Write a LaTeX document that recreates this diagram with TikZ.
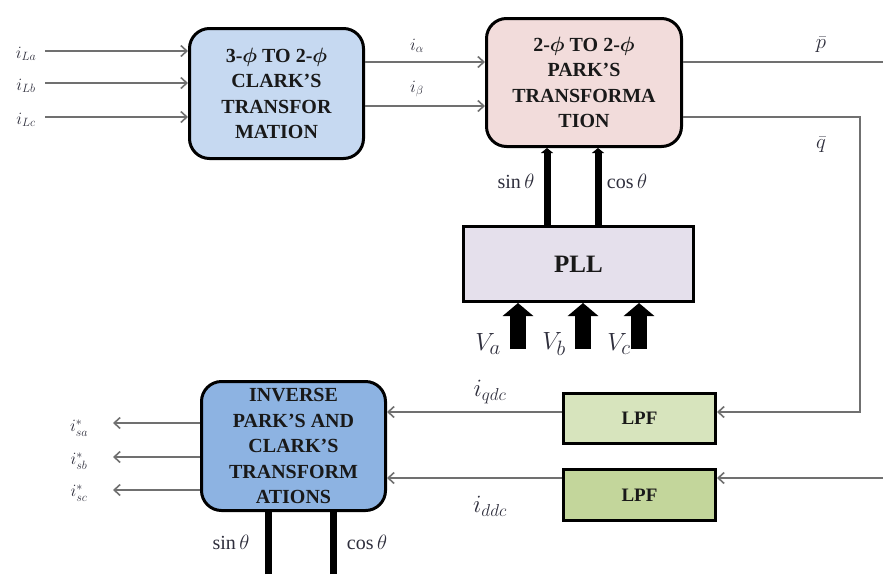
\documentclass[tikz,border=0pt]{standalone}
\usepackage{amsmath,bm}
\usepackage{fontspec}
\setmainfont{Liberation Serif}
\usetikzlibrary{arrows.meta}
\definecolor{clarkc}{HTML}{C6D9F1}
\definecolor{parkc}{HTML}{F2DCDB}
\definecolor{pllc}{HTML}{E5E0EC}
\definecolor{invc}{HTML}{8DB3E2}
\definecolor{lpfa}{HTML}{D7E4BD}
\definecolor{lpfb}{HTML}{C3D69B}
\definecolor{lblc}{HTML}{2E2E3C}
\definecolor{linec}{HTML}{707070}
\newcommand{\ph}{$\bm{\phi}$}
\tikzset{
  rbox/.style={draw=black, line width=3pt, rounded corners=20pt, align=center, inner sep=0pt,
    text=black!90, font=\bfseries\fontsize{20}{25.5}\selectfont},
  sbox/.style={draw=black, line width=3pt, align=center, inner sep=0pt, text=black!90},
  arr/.style={draw=linec, line width=1.6pt, -{Straight Barb[length=6pt,width=11pt]}},
  plainline/.style={draw=linec, line width=1.6pt},
  thick theta/.style={draw=black, line width=7pt},
  theta arrow/.style={draw=black, line width=7pt, -{Triangle[width=12pt,length=5pt]}},
  block arrow/.style={draw=black, line width=16pt, -{Triangle[width=30pt,length=13pt]}},
  lbl/.style={text=lblc, inner sep=0pt},
  small lbl/.style={lbl, font=\fontsize{18}{20}\selectfont},
  theta lbl/.style={lbl, font=\fontsize{20}{22}\selectfont},
}
\begin{document}
\begin{tikzpicture}[x=1pt,y=-1pt]
\useasboundingbox (0,0) rectangle (883,574);
% boxes
\node[rbox, fill=clarkc, minimum width=174pt, minimum height=130pt] (clark) at (276.5,93.5)
  {3-\ph{} TO 2-\ph\\CLARK’S\\TRANSFOR\\MATION};
\node[rbox, fill=parkc, minimum width=195pt, minimum height=128pt] (park) at (584,82.5)
  {2-\ph{} TO 2-\ph\\PARK’S\\TRANSFORMA\\TION};
\node[sbox, fill=pllc, minimum width=230pt, minimum height=75pt, font=\bfseries\fontsize{25}{28}\selectfont] (pll) at (578.5,264) {PLL};
\node[rbox, fill=invc, minimum width=184pt, minimum height=129pt] (inv) at (293.5,446)
  {INVERSE\\PARK’S AND\\CLARK’S\\TRANSFORM\\ATIONS};
\node[sbox, fill=lpfa, minimum width=152pt, minimum height=50pt, font=\bfseries\fontsize{19}{22}\selectfont] (lpf1) at (639.5,418.5) {LPF};
\node[sbox, fill=lpfb, minimum width=152pt, minimum height=51pt, font=\bfseries\fontsize{19}{22}\selectfont] (lpf2) at (639.5,495) {LPF};

% inputs to Clark
\coordinate (la) at (45,51);
\coordinate (lb) at (45,83);
\coordinate (lc) at (45,117);
\draw[arr] (la) -- (la -| clark.west);
\draw[arr] (lb) -- (lb -| clark.west);
\draw[arr] (lc) -- (lc -| clark.west);
\node[small lbl] (tla) at (26,54) {$i_{La}$};
\node[small lbl] (tlb) at (26,86) {$i_{Lb}$};
\node[small lbl] (tlc) at (26,120) {$i_{Lc}$};

% Clark to Park
\coordinate (al) at (365,62);
\coordinate (be) at (365,106);
\draw[arr] (al -| clark.east) -- (al -| park.west);
\draw[arr] (be -| clark.east) -- (be -| park.west);
\node[small lbl] (tal) at (417,46) {$i_{\alpha}$};
\node[small lbl] (tbe) at (417,89) {$i_{\beta}$};

% Park outputs
\coordinate (pend) at (883,62);
\draw[plainline] (pend -| park.east) -- (pend);
\node[lbl, font=\fontsize{22}{24}\selectfont] (tp) at (821,45) {$\bar{p}$};
\coordinate (qc) at (860,117);
\coordinate (qend) at (717,412);
\draw[arr] (qc -| park.east) -- (qc) -- (qc |- qend) -- (qend -| lpf1.east);
\node[lbl, font=\fontsize{22}{24}\selectfont] (tq) at (821,145) {$\bar{q}$};

% PLL to Park
\coordinate (sx) at (547,0);
\coordinate (cx) at (598,0);
\draw[theta arrow] (sx |- pll.north) -- (sx |- park.south);
\draw[theta arrow] (cx |- pll.north) -- (cx |- park.south);
\node[theta lbl] (ts1) at (516,181) {$\sin\theta$};
\node[theta lbl] (tc1) at (627,181) {$\cos\theta$};

% V inputs
\coordinate (va) at (518,349);
\coordinate (vb) at (583,349);
\coordinate (vc) at (639,349);
\draw[block arrow] (va) -- (va |- pll.south);
\draw[block arrow] (vb) -- (vb |- pll.south);
\draw[block arrow] (vc) -- (vc |- pll.south);
\node[lbl, font=\fontsize{30}{32}\selectfont] (tva) at (488,344) {$V_a$};
\node[lbl, font=\fontsize{30}{32}\selectfont] (tvb) at (554,344) {$V_b$};
\node[lbl, font=\fontsize{30}{32}\selectfont] (tvc) at (619,344) {$V_c$};

% LPFs to inverse
\draw[arr] (qend -| lpf1.west) -- (qend -| inv.east);
\node[lbl, font=\fontsize{24}{26}\selectfont] (tqdc) at (490,392) {$i_{qdc}$};
\coordinate (din) at (883,478);
\draw[arr] (din) -- (din -| lpf2.east);
\draw[arr] (din -| lpf2.west) -- (din -| inv.east);
\node[lbl, font=\fontsize{24}{26}\selectfont] (tddc) at (490,506) {$i_{ddc}$};

% inverse outputs
\coordinate (oa) at (113,423);
\coordinate (ob) at (113,457);
\coordinate (oc) at (113,490);
\draw[arr] (oa -| inv.west) -- (oa);
\draw[arr] (ob -| inv.west) -- (ob);
\draw[arr] (oc -| inv.west) -- (oc);
\node[small lbl] (tsa) at (79,428) {$i^{*}_{sa}$};
\node[small lbl] (tsb) at (79,461) {$i^{*}_{sb}$};
\node[small lbl] (tsc) at (79,493) {$i^{*}_{sc}$};

% theta inputs to inverse
\coordinate (bs) at (268,574);
\coordinate (bc) at (333,574);
\draw[thick theta] (bs) -- (bs |- inv.south);
\draw[thick theta] (bc) -- (bc |- inv.south);
\node[theta lbl] (ts2) at (231,542) {$\sin\theta$};
\node[theta lbl] (tc2) at (367,542) {$\cos\theta$};
\end{tikzpicture}
\end{document}
